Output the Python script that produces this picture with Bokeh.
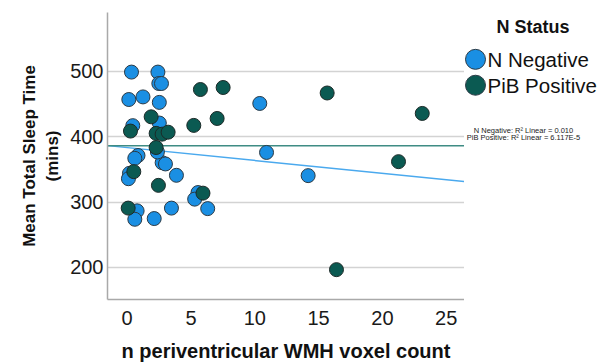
from bokeh.plotting import figure
from bokeh.layouts import row
from bokeh.models import Range1d, FixedTicker
from bokeh.core.properties import value
from bokeh.embed import file_html
from bokeh.resources import INLINE
import numpy as np

# ---------------- data ----------------
neg_x = [0.34, 2.41, 2.48, 2.69, 0.13, 1.24, 2.52, 10.39, 0.44, 2.52, 10.92, 14.18,
         0.85, 0.60, 2.74, 3.00, 3.86, 0.18, 0.10, 5.55, 5.29, 6.31, 0.78, 0.60,
         2.12, 3.47, 2.37]
neg_y = [499, 499, 481.5, 481.5, 457, 461, 452.6, 451, 417, 421, 376, 340.5,
         371.3, 367, 360.3, 358.4, 341, 344, 335.8, 314.6, 304.5, 290, 286.6, 273.7,
         274.8, 290.8, 376.7]
pib_x = [1.88, 0.26, 2.27, 2.74, 3.21, 2.27, 5.74, 7.52, 5.22, 7.05, 15.67, 23.12,
         21.26, 16.40, 0.52, 2.45, 5.94, 0.08]
pib_y = [430.5, 408.7, 405.2, 404.0, 407.0, 383.5, 472.3, 475.4, 417.4, 428.0, 467.0, 435.7,
         361.9, 196.6, 346.6, 325.6, 313.7, 290.8]

neg_fit = [383.4, -1.97]   # intercept, slope
pib_fit = [386.3, 0.0]

x_ticks = [0, 5, 10, 15, 20, 25]
y_ticks = [200, 300, 400, 500]
x_lim = [-1.54, 26.43]
y_lim = [150.9, 590.2]

legend_title = "N Status"
legend_labels = ["N Negative", "PiB Positive"]
r2_labels = ["N Negative: R\u00b2 Linear = 0.010", "PiB Positive: R\u00b2 Linear = 6.117E-5"]
x_title = "n periventricular WMH voxel count"
y_title = "Mean Total Sleep Time\n(mins)"

# ---------------- style / layout ----------------
FONT = "Liberation Sans"
C_NEG = "#1a8fe3"
C_PIB = "#0b5a52"
C_NEG_LINE = "#4aa9ee"
C_PIB_LINE = "#3f8c84"
GRID = "#d3d3d3"
AXIS = "#a9a9a9"

MAIN_W, H = 464, 364
B_LEFT, B_TOP, B_BOTTOM = 107, 12, 64
FRAME_TOP, FRAME_BOTTOM = B_TOP, H - B_BOTTOM
LEG_W = 145

p = figure(width=MAIN_W, height=H, min_border_left=B_LEFT, min_border_right=0,
           min_border_top=B_TOP, min_border_bottom=B_BOTTOM,
           x_range=Range1d(*x_lim), y_range=Range1d(*y_lim),
           output_backend="svg", toolbar_location=None)
p.outline_line_color = None
p.background_fill_color = "white"
p.border_fill_color = "white"

p.xgrid.visible = False
p.ygrid.grid_line_color = GRID
p.ygrid.grid_line_width = 1.5
p.ygrid.ticker = FixedTicker(ticks=y_ticks)

for ax in (p.xaxis[0], p.yaxis[0]):
    ax.axis_line_color = AXIS
    ax.axis_line_width = 1.5
    ax.major_tick_line_color = None
    ax.minor_tick_line_color = None
    ax.major_tick_out = 0
    ax.major_tick_in = 0
    ax.minor_tick_out = 0
    ax.minor_tick_in = 0
    ax.major_label_text_font = FONT
    ax.major_label_text_font_size = "20px"
    ax.major_label_text_color = "#1a1a1a"
    ax.axis_label_text_font = FONT
    ax.axis_label_text_font_style = "bold"
    ax.axis_label_text_color = "#111111"

p.xaxis.ticker = FixedTicker(ticks=x_ticks)
p.yaxis.ticker = FixedTicker(ticks=y_ticks)
p.xaxis.major_label_standoff = 11
p.yaxis.major_label_standoff = 4
p.xaxis.axis_label = x_title
p.xaxis.axis_label_text_font_size = "20px"
p.xaxis.axis_label_standoff = 12
p.yaxis.axis_label = y_title
p.yaxis.axis_label_text_font_size = "17px"
p.yaxis.axis_label_standoff = 5

# regression lines
lx = np.array(x_lim)
p.line(lx, neg_fit[0] + neg_fit[1] * lx, line_color=C_NEG_LINE, line_width=1.5)
p.line(lx, pib_fit[0] + pib_fit[1] * lx, line_color=C_PIB_LINE, line_width=1.5)

# points
p.scatter(neg_x, neg_y, size=14, fill_color=C_NEG, line_color="#2b3a45", line_width=1)
p.scatter(pib_x, pib_y, size=14, fill_color=C_PIB, line_color="#1c2a28", line_width=1)

# ---------------- legend panel (page-pixel coordinates) ----------------
q = figure(width=LEG_W, height=H, min_border_left=0, min_border_right=0,
           min_border_top=B_TOP, min_border_bottom=B_BOTTOM,
           x_range=Range1d(MAIN_W, MAIN_W + LEG_W), y_range=Range1d(FRAME_BOTTOM, FRAME_TOP),
           output_backend="svg", toolbar_location=None)
q.axis.visible = False
q.grid.visible = False
q.outline_line_color = None
q.background_fill_color = "white"
q.border_fill_color = "white"

q.text(x=[532.5], y=[27], text=[legend_title], text_font=value(FONT),
       text_font_style="bold", text_font_size="18px", text_align="center",
       text_baseline="middle", text_color="#111111")
row_y = [59 + 26 * i for i in range(len(legend_labels))]
q.scatter([475] * len(legend_labels), row_y, size=20,
          fill_color=[C_NEG, C_PIB], line_color="#2b3a45", line_width=1)
q.text(x=[487] * len(legend_labels), y=row_y, text=legend_labels, text_font=value(FONT),
       text_font_size="20.5px", text_baseline="middle", text_color="#111111")
q.text(x=[523] * len(r2_labels), y=[130 + 7.3 * i for i in range(len(r2_labels))],
       text=r2_labels, text_font=value(FONT), text_font_size="7.5px",
       text_align="center", text_baseline="middle", text_color="#222222")

layout = row(p, q)
open("out.html", "w").write(file_html(layout, INLINE))
